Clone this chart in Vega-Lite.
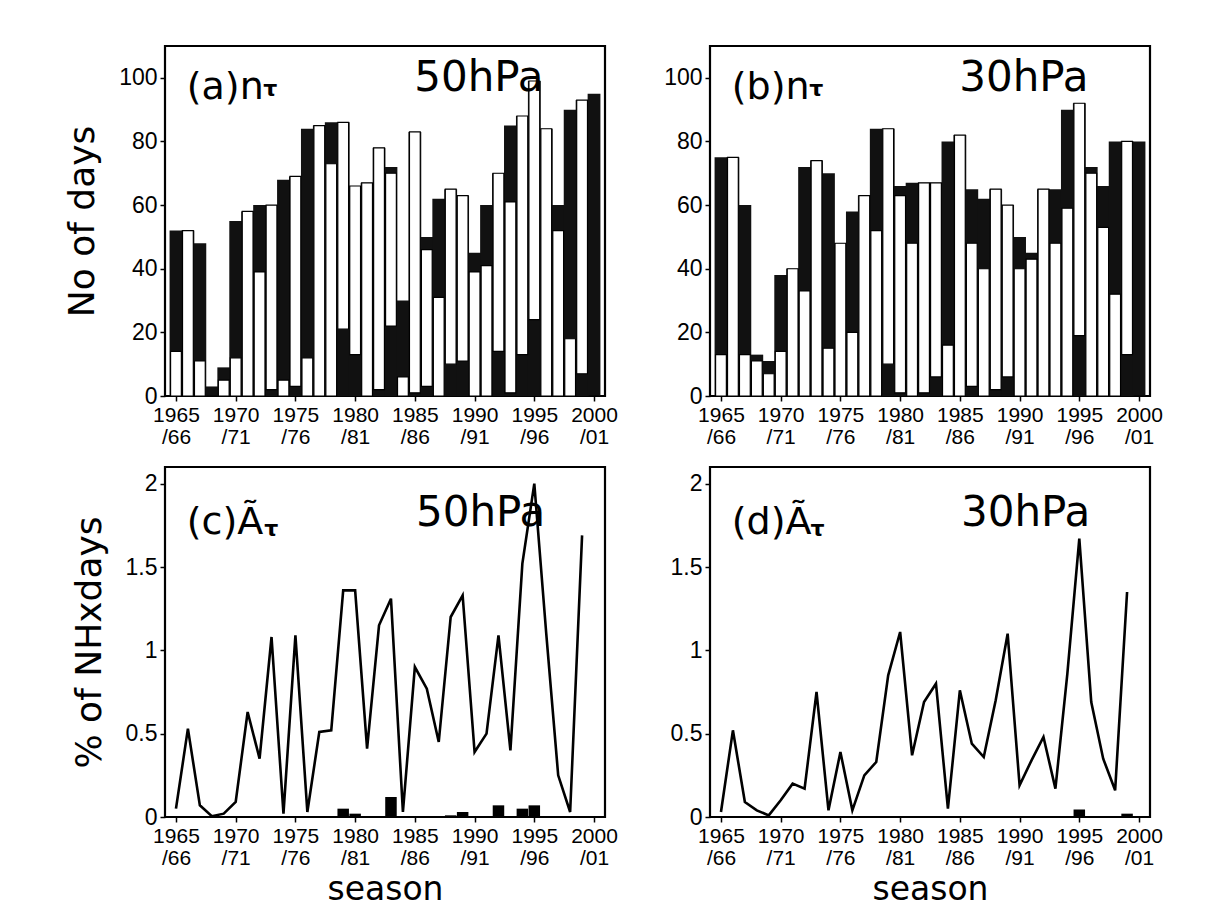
{
  "$schema": "https://vega.github.io/schema/vega-lite/v6.json",
  "background": "white",
  "padding": {"left": 63, "top": 44, "right": 5, "bottom": 5},
  "config": {
    "view": {"stroke": "black", "strokeWidth": 2.2},
    "axis": {"labelFont": "Liberation Sans", "labelColor": "black", "tickColor": "black", "domain": false, "grid": false, "tickSize": 5, "tickWidth": 1.5, "titleFont": "DejaVu Sans", "titleFontWeight": "normal", "titleColor": "black", "labelOverlap": false, "labelFlush": false, "labelBound": false},
    "axisX": {"labelFontSize": 21, "labelPadding": 3, "labelLineHeight": 22, "titleFontSize": 33, "titlePadding": 5},
    "axisY": {"labelFontSize": 23, "labelPadding": 3, "titleFontSize": 36, "titlePadding": 17}
  },
  "datasets": {
    "n": [
      {"season": 1965, "lo50": 0, "hi50": 14, "blk50": 52, "lo30": 0, "hi30": 13, "blk30": 75},
      {"season": 1966, "lo50": 0, "hi50": 52, "blk50": 52, "lo30": 0, "hi30": 75, "blk30": 75},
      {"season": 1967, "lo50": 0, "hi50": 11, "blk50": 48, "lo30": 0, "hi30": 13, "blk30": 60},
      {"season": 1968, "lo50": 0, "hi50": 0, "blk50": 3, "lo30": 0, "hi30": 11, "blk30": 13},
      {"season": 1969, "lo50": 0, "hi50": 5, "blk50": 9, "lo30": 0, "hi30": 7, "blk30": 11},
      {"season": 1970, "lo50": 0, "hi50": 12, "blk50": 55, "lo30": 0, "hi30": 14, "blk30": 38},
      {"season": 1971, "lo50": 0, "hi50": 58, "blk50": 58, "lo30": 0, "hi30": 40, "blk30": 40},
      {"season": 1972, "lo50": 0, "hi50": 39, "blk50": 60, "lo30": 0, "hi30": 33, "blk30": 72},
      {"season": 1973, "lo50": 2, "hi50": 60, "blk50": 60, "lo30": 0, "hi30": 74, "blk30": 74},
      {"season": 1974, "lo50": 0, "hi50": 5, "blk50": 68, "lo30": 0, "hi30": 15, "blk30": 70},
      {"season": 1975, "lo50": 3, "hi50": 69, "blk50": 69, "lo30": 0, "hi30": 48, "blk30": 48},
      {"season": 1976, "lo50": 0, "hi50": 12, "blk50": 84, "lo30": 0, "hi30": 20, "blk30": 58},
      {"season": 1977, "lo50": 0, "hi50": 85, "blk50": 85, "lo30": 0, "hi30": 63, "blk30": 63},
      {"season": 1978, "lo50": 0, "hi50": 73, "blk50": 86, "lo30": 0, "hi30": 52, "blk30": 84},
      {"season": 1979, "lo50": 21, "hi50": 86, "blk50": 86, "lo30": 10, "hi30": 84, "blk30": 84},
      {"season": 1980, "lo50": 13, "hi50": 66, "blk50": 66, "lo30": 1, "hi30": 63, "blk30": 66},
      {"season": 1981, "lo50": 0, "hi50": 67, "blk50": 67, "lo30": 0, "hi30": 48, "blk30": 67},
      {"season": 1982, "lo50": 2, "hi50": 78, "blk50": 78, "lo30": 1, "hi30": 67, "blk30": 67},
      {"season": 1983, "lo50": 22, "hi50": 70, "blk50": 72, "lo30": 6, "hi30": 67, "blk30": 67},
      {"season": 1984, "lo50": 0, "hi50": 6, "blk50": 30, "lo30": 0, "hi30": 16, "blk30": 80},
      {"season": 1985, "lo50": 1, "hi50": 83, "blk50": 83, "lo30": 0, "hi30": 82, "blk30": 82},
      {"season": 1986, "lo50": 3, "hi50": 46, "blk50": 50, "lo30": 3, "hi30": 48, "blk30": 65},
      {"season": 1987, "lo50": 0, "hi50": 31, "blk50": 62, "lo30": 0, "hi30": 40, "blk30": 62},
      {"season": 1988, "lo50": 10, "hi50": 65, "blk50": 65, "lo30": 2, "hi30": 65, "blk30": 65},
      {"season": 1989, "lo50": 11, "hi50": 63, "blk50": 63, "lo30": 6, "hi30": 60, "blk30": 60},
      {"season": 1990, "lo50": 0, "hi50": 39, "blk50": 45, "lo30": 0, "hi30": 40, "blk30": 50},
      {"season": 1991, "lo50": 0, "hi50": 41, "blk50": 60, "lo30": 0, "hi30": 43, "blk30": 45},
      {"season": 1992, "lo50": 14, "hi50": 70, "blk50": 70, "lo30": 0, "hi30": 65, "blk30": 65},
      {"season": 1993, "lo50": 1, "hi50": 61, "blk50": 85, "lo30": 0, "hi30": 48, "blk30": 65},
      {"season": 1994, "lo50": 13, "hi50": 88, "blk50": 88, "lo30": 0, "hi30": 59, "blk30": 90},
      {"season": 1995, "lo50": 24, "hi50": 99, "blk50": 99, "lo30": 19, "hi30": 92, "blk30": 92},
      {"season": 1996, "lo50": 0, "hi50": 84, "blk50": 84, "lo30": 0, "hi30": 70, "blk30": 72},
      {"season": 1997, "lo50": 0, "hi50": 52, "blk50": 60, "lo30": 0, "hi30": 53, "blk30": 66},
      {"season": 1998, "lo50": 0, "hi50": 18, "blk50": 90, "lo30": 0, "hi30": 32, "blk30": 80},
      {"season": 1999, "lo50": 7, "hi50": 93, "blk50": 93, "lo30": 13, "hi30": 80, "blk30": 80},
      {"season": 2000, "lo50": 0, "hi50": 0, "blk50": 95, "lo30": 0, "hi30": 0, "blk30": 80}
    ],
    "A": [
      {"season": 1965, "a50": 0.05, "b50": 0, "a30": 0.03, "b30": 0},
      {"season": 1966, "a50": 0.53, "b50": 0, "a30": 0.52, "b30": 0},
      {"season": 1967, "a50": 0.07, "b50": 0, "a30": 0.09, "b30": 0},
      {"season": 1968, "a50": 0.005, "b50": 0, "a30": 0.04, "b30": 0},
      {"season": 1969, "a50": 0.02, "b50": 0, "a30": 0.01, "b30": 0},
      {"season": 1970, "a50": 0.09, "b50": 0, "a30": 0.1, "b30": 0},
      {"season": 1971, "a50": 0.63, "b50": 0, "a30": 0.2, "b30": 0},
      {"season": 1972, "a50": 0.35, "b50": 0, "a30": 0.17, "b30": 0},
      {"season": 1973, "a50": 1.08, "b50": 0.005, "a30": 0.75, "b30": 0},
      {"season": 1974, "a50": 0.02, "b50": 0, "a30": 0.04, "b30": 0},
      {"season": 1975, "a50": 1.09, "b50": 0, "a30": 0.39, "b30": 0},
      {"season": 1976, "a50": 0.03, "b50": 0, "a30": 0.04, "b30": 0},
      {"season": 1977, "a50": 0.51, "b50": 0.005, "a30": 0.25, "b30": 0},
      {"season": 1978, "a50": 0.52, "b50": 0, "a30": 0.33, "b30": 0},
      {"season": 1979, "a50": 1.36, "b50": 0.05, "a30": 0.85, "b30": 0},
      {"season": 1980, "a50": 1.36, "b50": 0.02, "a30": 1.11, "b30": 0},
      {"season": 1981, "a50": 0.41, "b50": 0, "a30": 0.37, "b30": 0},
      {"season": 1982, "a50": 1.15, "b50": 0, "a30": 0.69, "b30": 0},
      {"season": 1983, "a50": 1.31, "b50": 0.12, "a30": 0.8, "b30": 0},
      {"season": 1984, "a50": 0.03, "b50": 0, "a30": 0.05, "b30": 0},
      {"season": 1985, "a50": 0.9, "b50": 0, "a30": 0.76, "b30": 0},
      {"season": 1986, "a50": 0.77, "b50": 0, "a30": 0.44, "b30": 0},
      {"season": 1987, "a50": 0.45, "b50": 0, "a30": 0.36, "b30": 0},
      {"season": 1988, "a50": 1.2, "b50": 0.01, "a30": 0.7, "b30": 0},
      {"season": 1989, "a50": 1.33, "b50": 0.03, "a30": 1.1, "b30": 0},
      {"season": 1990, "a50": 0.39, "b50": 0, "a30": 0.19, "b30": 0},
      {"season": 1991, "a50": 0.5, "b50": 0, "a30": 0.34, "b30": 0},
      {"season": 1992, "a50": 1.09, "b50": 0.07, "a30": 0.48, "b30": 0},
      {"season": 1993, "a50": 0.4, "b50": 0, "a30": 0.17, "b30": 0},
      {"season": 1994, "a50": 1.52, "b50": 0.05, "a30": 0.86, "b30": 0},
      {"season": 1995, "a50": 2.0, "b50": 0.07, "a30": 1.67, "b30": 0.045},
      {"season": 1996, "a50": 1.1, "b50": 0, "a30": 0.69, "b30": 0},
      {"season": 1997, "a50": 0.25, "b50": 0, "a30": 0.35, "b30": 0},
      {"season": 1998, "a50": 0.03, "b50": 0, "a30": 0.16, "b30": 0},
      {"season": 1999, "a50": 1.69, "b50": 0.005, "a30": 1.35, "b30": 0.02}
    ]
  },
  "columns": 2,
  "spacing": {"row": 71, "column": 105},
  "bounds": "flush",
  "concat": [
    {
      "width": 440, "height": 350,
      "data": {"name": "n"},
      "layer": [
        {"mark": {"type": "bar", "color": "#111", "width": 12.8},
         "encoding": {
           "x": {"field": "season", "type": "quantitative", "scale": {"domain": [1964.5, 2000.5], "nice": false, "zero": false},
                 "axis": {"title": null, "values": [1965, 1970, 1975, 1980, 1985, 1990, 1995, 2000], "labelExpr": "[toString(datum.value), '/' + substring(toString(datum.value + 1), 2)]"}},
           "y": {"field": "blk50", "type": "quantitative", "scale": {"domain": [0, 110], "nice": false},
                 "axis": {"title": "No of days", "values": [0, 20, 40, 60, 80, 100]}}
         }},
        {"mark": {"type": "bar", "fill": "white", "stroke": "black", "strokeWidth": 1.2, "width": 10.8},
         "encoding": {
           "x": {"field": "season", "type": "quantitative"},
           "y": {"field": "lo50", "type": "quantitative"},
           "y2": {"field": "hi50"}
         }},
        {"data": {"values": [{}]}, "mark": {"type": "text", "text": "(a)n", "font": "DejaVu Sans", "fontSize": 38, "align": "left", "baseline": "alphabetic", "color": "black"},
         "encoding": {"x": {"datum": 1965.9}, "y": {"datum": 93.3}}},
        {"data": {"values": [{}]}, "mark": {"type": "text", "text": "τ", "font": "DejaVu Sans", "fontWeight": "bold", "fontSize": 22, "align": "left", "baseline": "alphabetic", "color": "black"},
         "encoding": {"x": {"datum": 1972.3}, "y": {"datum": 94.3}}},
        {"data": {"values": [{}]}, "mark": {"type": "text", "text": "50hPa", "font": "DejaVu Sans", "fontSize": 42, "align": "left", "baseline": "alphabetic", "color": "black"},
         "encoding": {"x": {"datum": 1984.95}, "y": {"datum": 95.9}}}
      ]
    },
    {
      "width": 440, "height": 350,
      "data": {"name": "n"},
      "layer": [
        {"mark": {"type": "bar", "color": "#111", "width": 12.8},
         "encoding": {
           "x": {"field": "season", "type": "quantitative", "scale": {"domain": [1964.5, 2000.5], "nice": false, "zero": false},
                 "axis": {"title": null, "values": [1965, 1970, 1975, 1980, 1985, 1990, 1995, 2000], "labelExpr": "[toString(datum.value), '/' + substring(toString(datum.value + 1), 2)]"}},
           "y": {"field": "blk30", "type": "quantitative", "scale": {"domain": [0, 110], "nice": false},
                 "axis": {"title": null, "values": [0, 20, 40, 60, 80, 100]}}
         }},
        {"mark": {"type": "bar", "fill": "white", "stroke": "black", "strokeWidth": 1.2, "width": 10.8},
         "encoding": {
           "x": {"field": "season", "type": "quantitative"},
           "y": {"field": "lo30", "type": "quantitative"},
           "y2": {"field": "hi30"}
         }},
        {"data": {"values": [{}]}, "mark": {"type": "text", "text": "(b)n", "font": "DejaVu Sans", "fontSize": 38, "align": "left", "baseline": "alphabetic", "color": "black"},
         "encoding": {"x": {"datum": 1965.9}, "y": {"datum": 93.3}}},
        {"data": {"values": [{}]}, "mark": {"type": "text", "text": "τ", "font": "DejaVu Sans", "fontWeight": "bold", "fontSize": 22, "align": "left", "baseline": "alphabetic", "color": "black"},
         "encoding": {"x": {"datum": 1972.4}, "y": {"datum": 94.3}}},
        {"data": {"values": [{}]}, "mark": {"type": "text", "text": "30hPa", "font": "DejaVu Sans", "fontSize": 42, "align": "left", "baseline": "alphabetic", "color": "black"},
         "encoding": {"x": {"datum": 1984.95}, "y": {"datum": 95.9}}}
      ]
    },
    {
      "width": 440, "height": 350,
      "data": {"name": "A"},
      "layer": [
        {"mark": {"type": "bar", "color": "black", "width": 11.5},
         "encoding": {
           "x": {"field": "season", "type": "quantitative", "scale": {"domain": [1964.5, 2000.5], "nice": false, "zero": false},
                 "axis": {"title": "season", "values": [1965, 1970, 1975, 1980, 1985, 1990, 1995, 2000], "labelExpr": "[toString(datum.value), '/' + substring(toString(datum.value + 1), 2)]"}},
           "y": {"field": "b50", "type": "quantitative", "scale": {"domain": [0, 2.1], "nice": false},
                 "axis": {"title": "% of NHxdays", "values": [0, 0.5, 1, 1.5, 2], "labelExpr": "toString(datum.value)"}}
         }},
        {"mark": {"type": "line", "color": "black", "strokeWidth": 2.6},
         "encoding": {
           "x": {"field": "season", "type": "quantitative"},
           "y": {"field": "a50", "type": "quantitative"}
         }},
        {"data": {"values": [{}]}, "mark": {"type": "text", "text": "(c)Ã", "font": "DejaVu Sans", "fontSize": 38, "align": "left", "baseline": "alphabetic", "color": "black"},
         "encoding": {"x": {"datum": 1965.9}, "y": {"datum": 1.696}}},
        {"data": {"values": [{}]}, "mark": {"type": "text", "text": "τ", "font": "DejaVu Sans", "fontWeight": "bold", "fontSize": 22, "align": "left", "baseline": "alphabetic", "color": "black"},
         "encoding": {"x": {"datum": 1972.4}, "y": {"datum": 1.686}}},
        {"data": {"values": [{}]}, "mark": {"type": "text", "text": "50hPa", "font": "DejaVu Sans", "fontSize": 42, "align": "left", "baseline": "alphabetic", "color": "black"},
         "encoding": {"x": {"datum": 1985.1}, "y": {"datum": 1.746}}}
      ]
    },
    {
      "width": 440, "height": 350,
      "data": {"name": "A"},
      "layer": [
        {"mark": {"type": "bar", "color": "black", "width": 11.5},
         "encoding": {
           "x": {"field": "season", "type": "quantitative", "scale": {"domain": [1964.5, 2000.5], "nice": false, "zero": false},
                 "axis": {"title": "season", "values": [1965, 1970, 1975, 1980, 1985, 1990, 1995, 2000], "labelExpr": "[toString(datum.value), '/' + substring(toString(datum.value + 1), 2)]"}},
           "y": {"field": "b30", "type": "quantitative", "scale": {"domain": [0, 2.1], "nice": false},
                 "axis": {"title": null, "values": [0, 0.5, 1, 1.5, 2], "labelExpr": "toString(datum.value)"}}
         }},
        {"mark": {"type": "line", "color": "black", "strokeWidth": 2.6},
         "encoding": {
           "x": {"field": "season", "type": "quantitative"},
           "y": {"field": "a30", "type": "quantitative"}
         }},
        {"data": {"values": [{}]}, "mark": {"type": "text", "text": "(d)Ã", "font": "DejaVu Sans", "fontSize": 38, "align": "left", "baseline": "alphabetic", "color": "black"},
         "encoding": {"x": {"datum": 1965.9}, "y": {"datum": 1.696}}},
        {"data": {"values": [{}]}, "mark": {"type": "text", "text": "τ", "font": "DejaVu Sans", "fontWeight": "bold", "fontSize": 22, "align": "left", "baseline": "alphabetic", "color": "black"},
         "encoding": {"x": {"datum": 1972.5}, "y": {"datum": 1.686}}},
        {"data": {"values": [{}]}, "mark": {"type": "text", "text": "30hPa", "font": "DejaVu Sans", "fontSize": 42, "align": "left", "baseline": "alphabetic", "color": "black"},
         "encoding": {"x": {"datum": 1985.1}, "y": {"datum": 1.746}}}
      ]
    }
  ]
}
